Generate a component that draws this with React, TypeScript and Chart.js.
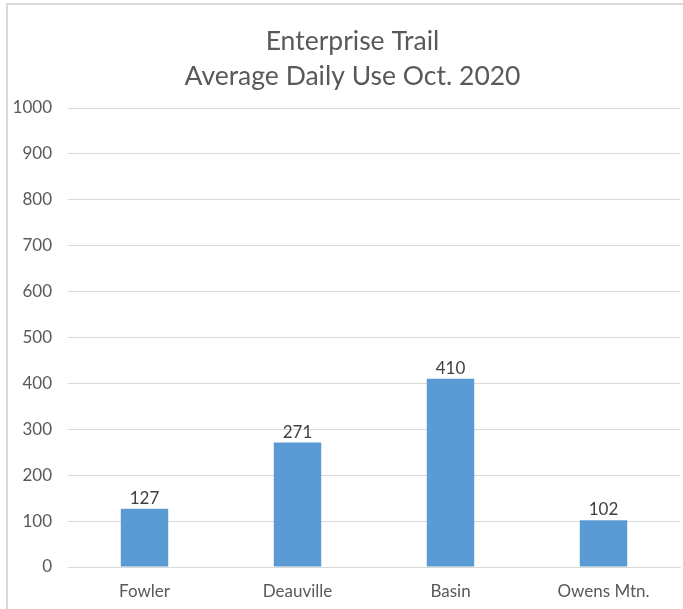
import React, { useEffect, useRef } from "react";
import { Chart, registerables } from "chart.js";

Chart.register(...registerables);

const titleLines = ["Enterprise Trail", "Average Daily Use Oct. 2020"];
const categories = ["Fowler", "Deauville", "Basin", "Owens Mtn."];
const values = [127, 271, 410, 102];
const yMin = 0;
const yMax = 1000;
const yStep = 100;

const FONT = "Lato, 'Open Sans', sans-serif";
const TEXT = "#595959";

const dataLabels = {
  id: "dataLabels",
  afterDatasetsDraw(chart: any) {
    const { ctx } = chart;
    const meta = chart.getDatasetMeta(0);
    ctx.save();
    ctx.font = `17px ${FONT}`;
    ctx.fillStyle = "#404040";
    ctx.textAlign = "center";
    ctx.textBaseline = "bottom";
    meta.data.forEach((bar: any, i: number) => {
      ctx.fillText(String(values[i]), bar.x, bar.y - 2);
    });
    ctx.restore();
  },
};

// Title centred on the chart frame (which extends past the picture's right edge)
const frameTitle = {
  id: "frameTitle",
  afterDraw(chart: any) {
    const { ctx } = chart;
    ctx.save();
    ctx.font = `26.5px ${FONT}`;
    ctx.fillStyle = TEXT;
    ctx.textAlign = "center";
    ctx.textBaseline = "middle";
    const cx = 22 + (chart.width - 22) / 2;
    titleLines.forEach((line, i) => {
      ctx.fillText(line, cx, 41 + i * 35);
    });
    ctx.restore();
  },
};

export default function App() {
  const ref = useRef<HTMLCanvasElement | null>(null);
  useEffect(() => {
    document.body.style.margin = "0";
    if (!ref.current) return;
    const chart = new Chart(ref.current, {
      type: "bar",
      data: {
        labels: categories,
        datasets: [
          {
            data: values,
            backgroundColor: "#5b9bd5",
            borderWidth: 0,
            categoryPercentage: 1,
            barPercentage: 0.31,
          },
        ],
      },
      options: {
        animation: false,
        responsive: false,
        devicePixelRatio: 1,
        layout: { padding: { left: 0, right: 3, top: 108, bottom: 0 } },
        plugins: {
          legend: { display: false },
          tooltip: { enabled: false },
          title: { display: false },
        },
        scales: {
          x: {
            grid: { display: false, drawTicks: false },
            border: { display: true, color: "#d9d9d9", width: 1 },
            ticks: { color: TEXT, font: { family: FONT, size: 17 }, padding: 14 },
            afterFit: (s: any) => {
              s.height = 42;
            },
          },
          y: {
            min: yMin,
            max: yMax,
            grid: { color: "#d9d9d9", drawTicks: false },
            border: { display: false },
            ticks: {
              stepSize: yStep,
              color: TEXT,
              font: { family: FONT, size: 17 },
              padding: 16,
              callback: (v: any) => String(v),
            },
            afterFit: (s: any) => {
              s.width = 68;
            },
          },
        },
      },
      plugins: [dataLabels, frameTitle],
    });
    return () => chart.destroy();
  }, []);
  return (
    <div style={{ position: "relative", width: 683, height: 609, background: "#fff" }}>
      <div
        style={{
          position: "absolute",
          left: 6,
          top: 3,
          right: 0,
          bottom: 0,
          borderLeft: "2px solid #d9d9d9",
          borderTop: "2px solid #d9d9d9",
          pointerEvents: "none",
        }}
      />
      <canvas ref={ref} width={683} height={609} style={{ position: "absolute", left: 0, top: 0 }} />
    </div>
  );
}
